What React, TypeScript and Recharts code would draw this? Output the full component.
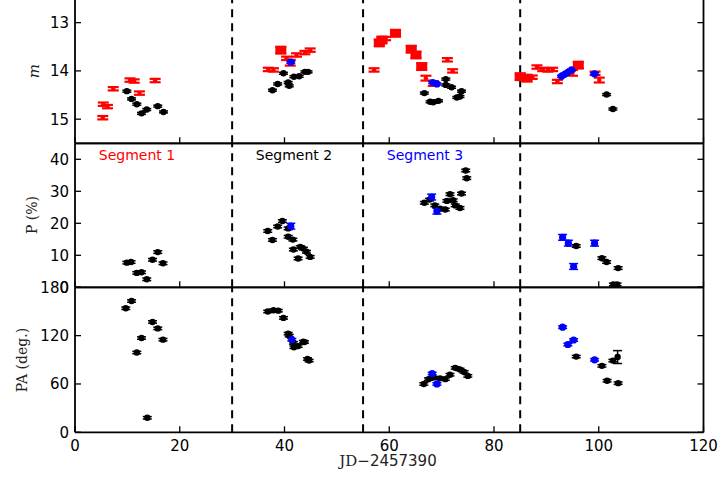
import React from 'react';
import { ScatterChart, Scatter, XAxis, YAxis, ErrorBar, ReferenceLine } from 'recharts';

// [JD offset, value, error?]
type Pt = [number, number, number?];

const X_TICKS = [0, 20, 40, 60, 80, 100, 120];
const DIVIDERS = [30, 55, 85];

const MAG_TICKS = [13, 14, 15];
const POL_TICKS = [0, 10, 20, 30, 40];
const PA_TICKS = [0, 60, 120, 180];

const MAG_BLACK: Pt[] = [
  [9.9, 14.42], [10.8, 14.58], [11.8, 14.69], [12.7, 14.88], [13.7, 14.8], [15.8, 14.73], [16.9, 14.85],
  [37.7, 14.4], [38.7, 14.27], [39.8, 14.05], [40.7, 14.24], [40.9, 14.31], [41.8, 14.12], [42.8, 14.11], [43.9, 14.02], [44.5, 14.02],
  [66.7, 14.46], [67.8, 14.64], [68.4, 14.65], [69.4, 14.62], [70.8, 14.17], [70.8, 14.29], [71.9, 14.34], [72.9, 14.55], [73.5, 14.53], [73.8, 14.42],
  [101.5, 14.49], [102.7, 14.79],
];
const MAG_RED: Pt[] = [
  [5.3, 14.97], [5.4, 14.69], [6.2, 14.74], [7.3, 14.37], [10.5, 14.19], [11.3, 14.21], [12.3, 14.46], [15.3, 14.2],
  [36.9, 13.97], [37.9, 13.98], [40.4, 13.74], [41.1, 13.83, 0.06], [42.3, 13.67], [43.9, 13.62], [44.9, 13.57],
  [57.1, 13.98], [59.3, 13.33], [67.0, 14.15, 0.05], [68.4, 14.26, 0.05], [71.1, 13.77], [72.1, 14.0],
  [87.3, 14.13], [88.2, 13.92], [89.3, 13.97], [90.3, 13.98], [91.2, 13.97], [92.1, 14.22],
  [95.0, 14.04, 0.06], [99.3, 14.05], [100.1, 14.19, 0.05],
];
// red points drawn with large, block-like markers
const MAG_RED_BLOCK: Pt[] = [
  [39.3, 13.57], [58.1, 13.42], [58.6, 13.36], [61.2, 13.22], [64.2, 13.55], [65.1, 13.67], [66.2, 13.91],
  [85.0, 14.12], [86.3, 14.15], [96.1, 13.88],
];
const MAG_BLUE: Pt[] = [
  [41.2, 13.82], [68.3, 14.24], [69.1, 14.27], [92.9, 14.11], [93.5, 14.07], [94.1, 14.03], [94.8, 13.98], [99.2, 14.06],
];

const POL_BLACK: Pt[] = [
  [9.9, 7.7], [10.7, 7.9], [11.8, 4.5], [12.7, 4.7], [13.7, 2.5], [14.8, 8.6], [15.8, 11.0], [16.8, 7.5],
  [36.8, 17.6], [37.7, 14.8], [38.7, 19.0], [39.6, 20.7], [40.7, 18.4], [40.7, 15.8], [41.6, 14.9], [41.7, 11.8], [42.6, 9.0],
  [43.0, 12.6], [43.6, 12.1], [44.2, 11.1], [44.9, 9.5],
  [66.7, 26.4], [67.7, 27.4], [68.7, 25.6], [69.7, 24.6], [70.7, 24.3], [71.0, 27.0], [71.6, 29.1], [72.2, 27.2], [72.6, 25.6],
  [73.5, 24.8], [73.8, 29.3], [74.6, 36.5], [74.8, 34.1],
  [95.7, 12.9], [100.6, 9.1], [101.5, 7.9], [103.7, 6.0], [102.8, 0.9], [103.5, 0.9],
];
const POL_BLUE: Pt[] = [
  [41.2, 19.1], [68.1, 28.2], [69.1, 23.8], [93.1, 15.6], [94.2, 13.8], [95.2, 6.5], [99.2, 13.8],
];

const PA_BLACK: Pt[] = [
  [9.7, 154], [10.8, 163], [11.8, 99], [12.7, 117], [13.8, 18], [14.8, 137], [15.8, 129], [16.8, 115],
  [36.8, 150], [37.9, 151.5], [38.8, 151], [39.8, 142], [40.7, 122.5], [40.9, 120], [41.7, 111], [41.8, 105.6], [42.6, 107],
  [43.6, 112.5], [43.8, 112], [44.4, 91], [44.7, 89],
  [66.6, 60], [67.5, 66], [68.4, 68], [69.7, 67], [70.7, 66], [71.6, 71.5], [72.6, 80], [73.5, 78], [74.3, 75], [75.0, 70],
  [95.7, 94], [100.6, 82.5], [101.6, 64], [102.7, 89], [103.6, 93.4, 8], [103.7, 61],
];
const PA_BLUE: Pt[] = [
  [41.4, 115], [68.2, 73], [69.1, 60], [93.1, 130.5], [94.1, 109], [95.2, 114.6], [99.2, 90],
];

const TM = 6; // gap between axis line and tick label
const TL = 6; // inward tick length
const TICK_FONT = 'DejaVu Sans';
const SERIF = 'DejaVu Serif';

const toRows = (pts: Pt[], defErr: number) =>
  pts.map(([x, y, e]) => ({ x, y, err: e ?? defErr }));

const LeftTick = (p: any) => (
  <g>
    <line x1={p.x + TM} x2={p.x + TM + TL} y1={p.y} y2={p.y} stroke="#000" strokeWidth={1.3} />
    <text x={p.x} y={p.y} dy="0.36em" textAnchor="end" fontSize={15} fontFamily={TICK_FONT} fill="#000">
      {p.payload.value}
    </text>
  </g>
);
const RightTick = (p: any) => (
  <line x1={p.x - TM} x2={p.x - TM - TL} y1={p.y} y2={p.y} stroke="#000" strokeWidth={1.3} />
);
const TopTick = (p: any) => (
  <line x1={p.x} x2={p.x} y1={p.y + TM} y2={p.y + TM + TL} stroke="#000" strokeWidth={1.3} />
);
const BottomTick = (p: any) => (
  <g>
    <line x1={p.x} x2={p.x} y1={p.y - TM} y2={p.y - TM - TL} stroke="#000" strokeWidth={1.3} />
    {p.labels && (
      <text x={p.x} y={p.y + 12.5} textAnchor="middle" fontSize={15} fontFamily={TICK_FONT} fill="#000">
        {p.payload.value}
      </text>
    )}
  </g>
);

const dot = (color: string, r: number) => (p: any) =>
  p.cx == null ? <g /> : <circle cx={p.cx} cy={p.cy} r={r} fill={color} />;

const block = (color: string) => (p: any) =>
  p.cx == null ? <g /> : <rect x={p.cx - 5.5} y={p.cy - 4} width={11} height={8} fill={color} />;

interface Series {
  rows: { x: number; y: number; err: number }[];
  color: string;
  shape: (p: any) => React.ReactElement;
  cap: number;
  sw: number;
}

interface PanelProps {
  top: number;
  height: number;
  mTop: number;
  mBottom: number;
  domain: [number, number];
  ticks: number[];
  reversed?: boolean;
  labels?: boolean;
  series: Series[];
}

const axisLine = { stroke: '#000', strokeWidth: 1.8 };

function Panel({ top, height, mTop, mBottom, domain, ticks, reversed, labels, series }: PanelProps) {
  return (
    <div style={{ position: 'absolute', left: 0, top, width: 721, height }}>
      <ScatterChart width={721} height={height} margin={{ top: mTop, right: 7.5, bottom: mBottom, left: 15 }}>
        <XAxis
          xAxisId="b"
          type="number"
          dataKey="x"
          domain={[0, 120]}
          ticks={X_TICKS}
          height={1}
          tickSize={0}
          tickMargin={TM}
          axisLine={axisLine}
          tick={(p: any) => <BottomTick {...p} labels={labels} />}
          interval={0}
        />
        <XAxis
          xAxisId="t"
          orientation="top"
          type="number"
          domain={[0, 120]}
          ticks={X_TICKS}
          height={1}
          tickSize={0}
          tickMargin={TM}
          axisLine={axisLine}
          tick={TopTick}
          interval={0}
        />
        <YAxis
          yAxisId="l"
          type="number"
          dataKey="y"
          domain={domain}
          ticks={ticks}
          reversed={reversed}
          width={60}
          tickSize={0}
          tickMargin={TM}
          axisLine={axisLine}
          tick={LeftTick}
          interval={0}
          allowDataOverflow
        />
        <YAxis
          yAxisId="r"
          orientation="right"
          type="number"
          domain={domain}
          ticks={ticks}
          reversed={reversed}
          width={10}
          tickSize={0}
          tickMargin={TM}
          axisLine={axisLine}
          tick={RightTick}
          interval={0}
          allowDataOverflow
        />
        {DIVIDERS.map((d) => (
          <ReferenceLine
            key={d}
            x={d}
            xAxisId="b"
            yAxisId="l"
            stroke="#000"
            strokeWidth={2}
            strokeDasharray="8 6"
          />
        ))}
        {series.map((s, i) => (
          <Scatter
            key={i}
            data={s.rows}
            xAxisId="b"
            yAxisId="l"
            shape={s.shape}
            isAnimationActive={false}
          >
            <ErrorBar
              dataKey="err"
              direction="y"
              width={s.cap}
              strokeWidth={s.sw}
              stroke={s.color}
              isAnimationActive={false}
            />
          </Scatter>
        ))}
      </ScatterChart>
    </div>
  );
}

export default function App() {
  const black = (pts: Pt[], e: number): Series => ({ rows: toRows(pts, e), color: '#000', shape: dot('#000', 3.2), cap: 4.5, sw: 1.5 });
  const blue = (pts: Pt[], e: number): Series => ({ rows: toRows(pts, e), color: '#0000ff', shape: dot('#0000ff', 3.6), cap: 4.5, sw: 1.5 });
  const red = (pts: Pt[], e: number): Series => ({ rows: toRows(pts, e), color: '#ff0000', shape: dot('#ff0000', 2.2), cap: 5.5, sw: 2.2 });
  const redBlock = (pts: Pt[], e: number): Series => ({ rows: toRows(pts, e), color: '#ff0000', shape: block('#ff0000'), cap: 5.5, sw: 2.2 });

  return (
    <div style={{ position: 'absolute', left: 0, top: 0, width: 721, height: 482, background: '#fff', overflow: 'hidden' }}>
      <Panel
        top={-10}
        height={160}
        mTop={7.5}
        mBottom={5.7}
        domain={[12.5, 15.5]}
        ticks={MAG_TICKS}
        reversed
        series={[black(MAG_BLACK, 0.02), red(MAG_RED, 0.035), redBlock(MAG_RED_BLOCK, 0.07), blue(MAG_BLUE, 0.02)]}
      />
      <Panel
        top={135}
        height={160}
        mTop={7.3}
        mBottom={6.7}
        domain={[0, 45]}
        ticks={POL_TICKS}
        series={[black(POL_BLACK, 0.4), blue(POL_BLUE, 0.9)]}
      />
      <Panel
        top={270}
        height={212}
        mTop={16.3}
        mBottom={48.7}
        domain={[0, 180]}
        ticks={PA_TICKS}
        labels
        series={[black(PA_BLACK, 1.5), blue(PA_BLUE, 1.5)]}
      />
      <svg width={721} height={482} style={{ position: 'absolute', left: 0, top: 0, pointerEvents: 'none' }}>
        <text x={137} y={160} textAnchor="middle" fontSize={14} fontFamily={TICK_FONT} fill="#ff0000">Segment 1</text>
        <text x={294} y={160} textAnchor="middle" fontSize={14} fontFamily={TICK_FONT} fill="#000">Segment 2</text>
        <text x={425} y={160} textAnchor="middle" fontSize={14} fontFamily={TICK_FONT} fill="#0000ff">Segment 3</text>
        <text
          x={34}
          y={71}
          transform="rotate(-90 34 71)"
          textAnchor="middle"
          dominantBaseline="central"
          fontSize={15}
          fontStyle="italic"
          fontFamily={SERIF}
          fill="#222"
        >
          m
        </text>
        <text
          x={32}
          y={215}
          transform="rotate(-90 32 215)"
          textAnchor="middle"
          dominantBaseline="central"
          fontSize={14}
          fontFamily={SERIF}
          fill="#222"
        >
          P (%)
        </text>
        <text
          x={22}
          y={360}
          transform="rotate(-90 22 360)"
          textAnchor="middle"
          dominantBaseline="central"
          fontSize={14}
          fontFamily={SERIF}
          fill="#222"
        >
          PA (deg.)
        </text>
        <text x={388} y={466} textAnchor="middle" fontSize={15} fill="#222">
          <tspan fontFamily={SERIF}>JD</tspan>
          <tspan fontFamily={TICK_FONT}>−2457390</tspan>
        </text>
      </svg>
    </div>
  );
}
